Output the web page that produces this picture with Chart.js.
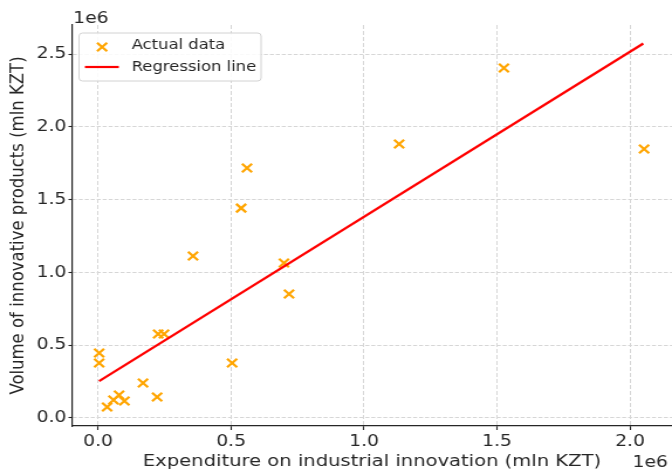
<!DOCTYPE html>
<html>
<head>
<meta charset="utf-8">
<script src="https://cdn.jsdelivr.net/npm/chart.js@4/dist/chart.umd.min.js"></script>
<style>
  html, body { margin: 0; padding: 0; background: #ffffff; overflow: hidden; }
  #chart { display: block; }
</style>
</head>
<body>
<canvas id="chart" width="574" height="472" style="width:672px;height:472px"></canvas>
<script>
// Expenditure on industrial innovation vs. volume of innovative products (mln KZT)
const expenditure = [4000, 4000, 226000, 248000, 169000, 222000, 34000, 58000, 79000, 99000,
                     504000, 560000, 538000, 357000, 699000, 718000, 1526000, 1132000, 2053000];
const innovativeProducts = [446000, 378000, 577000, 577000, 240000, 144000, 76000, 124000, 158000, 117000,
                            378000, 1717000, 1442000, 1113000, 1065000, 852000, 2404000, 1882000, 1848000];

// Fitted regression line, end points
const regressionX = [4000, 2050000];
const regressionY = [254000, 2573000];

const xTicks = [0, 500000, 1000000, 1500000, 2000000];
const yTicks = [0, 500000, 1000000, 1500000, 2000000, 2500000];
const axisScaleLabel = '1e6';

const FONT = 'DejaVu Sans';
const INK = '#262626';
const GRID = '#d6d6d6';

const points = expenditure.map((x, i) => ({ x: x, y: innovativeProducts[i] }));
const regression = regressionX.map((x, i) => ({ x: x, y: regressionY[i] }));

// "1e6" multipliers for both axes
const offsetText = {
  id: 'offsetText',
  afterDraw(chart) {
    const ctx = chart.ctx;
    const area = chart.chartArea;
    ctx.save();
    ctx.fillStyle = INK;
    ctx.font = '16px "' + FONT + '"';
    ctx.textBaseline = 'alphabetic';
    ctx.textAlign = 'left';
    ctx.fillText(axisScaleLabel, area.left + 1, 22.5);
    ctx.textAlign = 'right';
    ctx.fillText(axisScaleLabel, area.right - 3.5, 466.5);
    ctx.restore();
  }
};

// Legend box in the upper-left corner of the plot
const cornerLegend = {
  id: 'cornerLegend',
  afterDraw(chart) {
    const ctx = chart.ctx;
    const area = chart.chartArea;
    const x0 = area.left + 6, y0 = 33, w = 155.5, h = 48, r = 3;
    ctx.save();
    ctx.beginPath();
    ctx.roundRect(x0, y0, w, h, r);
    ctx.fillStyle = 'rgba(255,255,255,0.85)';
    ctx.fill();
    ctx.lineWidth = 1;
    ctx.strokeStyle = '#d2d2d2';
    ctx.stroke();

    const sets = chart.data.datasets;
    const rows = [45.5, 67];
    ctx.font = '14px "' + FONT + '"';
    ctx.textBaseline = 'middle';
    ctx.textAlign = 'left';
    sets.forEach((ds, i) => {
      const cy = rows[i];
      if (ds.showLine) {
        ctx.beginPath();
        ctx.strokeStyle = ds.borderColor;
        ctx.lineWidth = ds.borderWidth;
        ctx.moveTo(x0 + 5, cy);
        ctx.lineTo(x0 + 34, cy);
        ctx.stroke();
      } else {
        ctx.strokeStyle = ds.pointBorderColor;
        ctx.lineWidth = ds.pointBorderWidth;
        Chart.helpers.drawPoint(ctx, {
          pointStyle: ds.pointStyle, radius: ds.pointRadius,
          borderWidth: ds.pointBorderWidth, rotation: 0
        }, x0 + 19.7, cy + 1.5);
      }
      ctx.fillStyle = INK;
      ctx.fillText(ds.label, x0 + 45, cy);
    });
    ctx.restore();
  }
};

function fixedTicks(values) {
  return function (scale) { scale.ticks = values.map(v => ({ value: v })); };
}

// keep the plot area flush with the canvas edges: no extra room for edge labels
function noEdgePadding(scale) {
  scale.paddingLeft = 0;
  scale.paddingRight = 0;
  scale.paddingTop = 0;
  scale.paddingBottom = 0;
}

const canvas = document.getElementById('chart');
new Chart(canvas, {
  type: 'scatter',
  data: {
    datasets: [
      {
        label: 'Actual data',
        data: points,
        showLine: false,
        pointStyle: 'crossRot',
        pointRadius: 6,
        pointHoverRadius: 6,
        pointBorderWidth: 2.2,
        pointBorderColor: '#FFA500',
        pointBackgroundColor: '#FFA500',
        borderColor: '#FFA500',
        order: 1
      },
      {
        type: 'line',
        label: 'Regression line',
        data: regression,
        showLine: true,
        borderColor: '#FF0000',
        borderWidth: 2.2,
        pointRadius: 0,
        fill: false,
        tension: 0,
        order: 0
      }
    ]
  },
  options: {
    responsive: false,
    animation: false,
    events: [],
    layout: { autoPadding: false, padding: { top: 25, right: 0, bottom: 0, left: 0 } },
    plugins: {
      legend: { display: false },
      tooltip: { enabled: false },
      title: { display: false }
    },
    scales: {
      x: {
        type: 'linear',
        position: 'bottom',
        min: -98000,
        max: 2158000,
        afterBuildTicks: fixedTicks(xTicks),
        afterFit(scale) { scale.height = 46; noEdgePadding(scale); },
        border: { display: true, color: INK, width: 1.2, dash: [4, 2] },
        grid: {
          color: GRID, lineWidth: 1, drawTicks: true,
          tickLength: 4, tickColor: INK, tickWidth: 1.1, tickBorderDash: []
        },
        ticks: {
          color: INK, padding: 2,
          font: { family: FONT, size: 16 },
          maxRotation: 0,
          callback: v => (v / 1e6).toFixed(1)
        },
        title: {
          display: true,
          text: 'Expenditure on industrial innovation (mln KZT)',
          color: INK,
          font: { family: FONT, size: 16.7 },
          padding: { top: 0, bottom: 0 }
        }
      },
      y: {
        type: 'linear',
        position: 'left',
        min: -55000,
        max: 2700000,
        afterBuildTicks: fixedTicks(yTicks),
        afterFit(scale) { scale.width = 61.5; noEdgePadding(scale); },
        border: { display: true, color: INK, width: 1.2, dash: [3.4, 1.7] },
        grid: {
          color: GRID, lineWidth: 1, drawTicks: true,
          tickLength: 3, tickColor: INK, tickWidth: 1.1, tickBorderDash: []
        },
        ticks: {
          color: INK, padding: 1.7,
          font: { family: FONT, size: 16 },
          callback: v => (v / 1e6).toFixed(1)
        },
        title: {
          display: true,
          text: 'Volume of innovative products (mln KZT)',
          color: INK,
          font: { family: FONT, size: 16.5 },
          padding: { top: 6, bottom: 0 }
        }
      }
    }
  },
  plugins: [offsetText, cornerLegend]
});
// widen the drawing on screen to the figure's proportions
canvas.style.width = '672px';
canvas.style.height = '472px';
</script>
</body>
</html>
